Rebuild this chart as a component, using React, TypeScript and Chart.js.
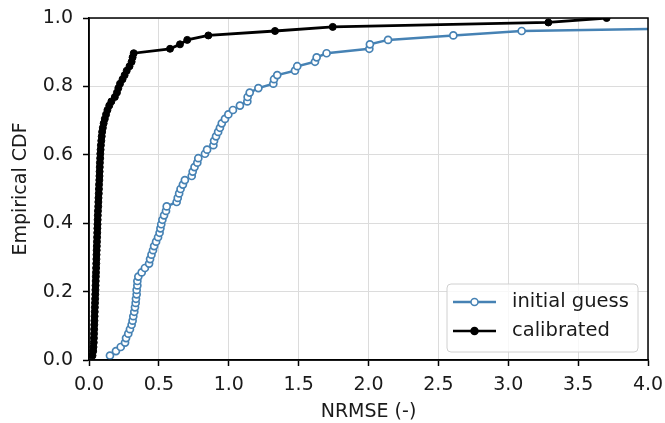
import React, { useEffect, useRef } from "react";
import { Chart, registerables } from "chart.js";

Chart.register(...registerables);

// Empirical CDF levels (i / 78)
const cdfLevels: number[] = [
  0.013, 0.026, 0.038, 0.051, 0.064, 0.077, 0.090, 0.103, 0.115, 0.128,
  0.141, 0.154, 0.167, 0.179, 0.192, 0.205, 0.218, 0.231, 0.244, 0.256,
  0.269, 0.282, 0.295, 0.308, 0.321, 0.333, 0.346, 0.359, 0.372, 0.385,
  0.397, 0.410, 0.423, 0.436, 0.449, 0.462, 0.474, 0.487, 0.500, 0.513,
  0.526, 0.538, 0.551, 0.564, 0.577, 0.590, 0.603, 0.615, 0.628, 0.641,
  0.654, 0.667, 0.679, 0.692, 0.705, 0.718, 0.731, 0.744, 0.756, 0.769,
  0.782, 0.795, 0.808, 0.821, 0.833, 0.846, 0.859, 0.872, 0.885, 0.897,
  0.910, 0.923, 0.936, 0.949, 0.962, 0.974, 0.987, 1.000,
];

// NRMSE of the initial guess (sorted)
const initialGuessNrmse: number[] = [
  0.150, 0.193, 0.227, 0.258, 0.265, 0.281, 0.293, 0.305, 0.312, 0.317,
  0.324, 0.329, 0.334, 0.336, 0.341, 0.341, 0.346, 0.346, 0.353, 0.377,
  0.400, 0.430, 0.437, 0.447, 0.458, 0.466, 0.480, 0.494, 0.505, 0.511,
  0.517, 0.525, 0.537, 0.551, 0.556, 0.627, 0.635, 0.645, 0.655, 0.672,
  0.686, 0.735, 0.742, 0.755, 0.775, 0.782, 0.830, 0.845, 0.890, 0.895,
  0.909, 0.924, 0.937, 0.950, 0.973, 0.997, 1.030, 1.080, 1.133, 1.135,
  1.150, 1.212, 1.319, 1.324, 1.347, 1.474, 1.490, 1.617, 1.629, 1.700,
  2.006, 2.010, 2.140, 2.607, 3.096, 4.900, 6.000, 8.000,
];

// NRMSE after calibration (sorted)
const calibratedNrmse: number[] = [
  0.025, 0.030, 0.032, 0.034, 0.035, 0.036, 0.037, 0.038, 0.039, 0.040,
  0.041, 0.042, 0.043, 0.044, 0.045, 0.046, 0.047, 0.048, 0.049, 0.050,
  0.051, 0.052, 0.053, 0.054, 0.055, 0.056, 0.057, 0.058, 0.059, 0.060,
  0.061, 0.062, 0.063, 0.064, 0.066, 0.067, 0.068, 0.070, 0.071, 0.072,
  0.074, 0.075, 0.076, 0.077, 0.078, 0.080, 0.081, 0.083, 0.085, 0.088,
  0.091, 0.094, 0.099, 0.105, 0.113, 0.122, 0.132, 0.145, 0.160, 0.185,
  0.200, 0.210, 0.222, 0.240, 0.255, 0.270, 0.290, 0.305, 0.312, 0.320,
  0.580, 0.651, 0.703, 0.854, 1.331, 1.744, 3.287, 3.704,
];

const seriesLabels: string[] = ["initial guess", "calibrated"];
const xTicks: number[] = [0, 0.5, 1, 1.5, 2, 2.5, 3, 3.5, 4];
const yTicks: number[] = [0, 0.2, 0.4, 0.6, 0.8, 1.0];

const BLUE = "#4682b4";
const FONT = "'DejaVu Sans', sans-serif";

const zeroPad = (s: any) => {
  s.paddingTop = 0;
  s.paddingBottom = 0;
  s.paddingLeft = 0;
  s.paddingRight = 0;
};

const frameAndLegend = {
  id: "frameAndLegend",
  afterDraw(chart: any) {
    const { ctx, chartArea } = chart;
    const { left, right, top, bottom } = chartArea;
    ctx.save();
    ctx.strokeStyle = "#000";
    ctx.lineWidth = 1.5;
    ctx.strokeRect(left, top, right - left, bottom - top);

    const bx = 447, by = 284, bw = 191, bh = 68, r = 4;
    ctx.beginPath();
    ctx.moveTo(bx + r, by);
    ctx.arcTo(bx + bw, by, bx + bw, by + bh, r);
    ctx.arcTo(bx + bw, by + bh, bx, by + bh, r);
    ctx.arcTo(bx, by + bh, bx, by, r);
    ctx.arcTo(bx, by, bx + bw, by, r);
    ctx.closePath();
    ctx.fillStyle = "rgba(255,255,255,0.8)";
    ctx.fill();
    ctx.strokeStyle = "#d0d0d0";
    ctx.lineWidth = 1;
    ctx.stroke();

    const rows = [
      { y: 302, color: BLUE, fill: "#fff" },
      { y: 331, color: "#000", fill: "#000" },
    ];
    rows.forEach((row, i) => {
      ctx.strokeStyle = row.color;
      ctx.lineWidth = 2.5;
      ctx.beginPath();
      ctx.moveTo(453, row.y);
      ctx.lineTo(496, row.y);
      ctx.stroke();
      ctx.beginPath();
      ctx.arc(474.5, row.y, 3.5, 0, Math.PI * 2);
      ctx.fillStyle = row.fill;
      ctx.fill();
      ctx.lineWidth = 1.5;
      ctx.stroke();
      ctx.fillStyle = "#1a1a1a";
      ctx.font = `19.5px ${FONT}`;
      ctx.textAlign = "left";
      ctx.textBaseline = "middle";
      ctx.fillText(seriesLabels[i], 512, row.y);
    });
    ctx.restore();
  },
};

export default function App() {
  const canvasRef = useRef<HTMLCanvasElement | null>(null);

  useEffect(() => {
    document.body.style.margin = "0";
    const canvas = canvasRef.current;
    if (!canvas) return;

    const blueData = initialGuessNrmse.map((x, i) => ({ x, y: cdfLevels[i] }));
    const blackData = calibratedNrmse.map((x, i) => ({ x, y: cdfLevels[i] }));

    const chart = new Chart(canvas, {
      type: "line",
      data: {
        datasets: [
          {
            label: seriesLabels[0],
            data: blueData,
            borderColor: BLUE,
            borderWidth: 2.5,
            pointRadius: 3.5,
            pointBorderWidth: 1.7,
            pointBackgroundColor: "#fff",
            pointBorderColor: BLUE,
            tension: 0,
            clip: 0,
            order: 1,
          },
          {
            label: seriesLabels[1],
            data: blackData,
            borderColor: "#000",
            borderWidth: 2.8,
            pointRadius: 3.5,
            pointBorderWidth: 1,
            pointBackgroundColor: "#000",
            pointBorderColor: "#000",
            tension: 0,
            clip: 0,
            order: 0,
          },
        ],
      },
      options: {
        animation: false,
        responsive: true,
        maintainAspectRatio: false,
        layout: { padding: { left: 0, top: 18, right: 17, bottom: 0 } },
        plugins: {
          legend: { display: false },
          tooltip: { enabled: false },
        },
        scales: {
          x: {
            type: "linear",
            min: 0,
            max: 4,
            afterFit: (s: any) => {
              s.height = 63;
              zeroPad(s);
            },
            afterBuildTicks: (s: any) => {
              s.ticks = xTicks.map((v) => ({ value: v }));
            },
            ticks: {
              color: "#1a1a1a",
              font: { family: FONT, size: 19 },
              padding: 8,
              maxRotation: 0,
              callback: (v: any) => Number(v).toFixed(1),
            },
            grid: {
              color: "#dcdcdc",
              lineWidth: 1,
              tickColor: "#000",
              tickLength: 6,
              tickWidth: 1.5,
            },
            border: { display: true, color: "#000", width: 1.5 },
            title: {
              display: true,
              text: "NRMSE (-)",
              color: "#1a1a1a",
              font: { family: FONT, size: 19 },
              padding: { top: 0, bottom: 0 },
            },
          },
          y: {
            type: "linear",
            min: 0,
            max: 1,
            afterFit: (s: any) => {
              s.width = 89;
              zeroPad(s);
            },
            afterBuildTicks: (s: any) => {
              s.ticks = yTicks.map((v) => ({ value: v }));
            },
            ticks: {
              color: "#1a1a1a",
              font: { family: FONT, size: 19 },
              padding: 10,
              callback: (v: any) => Number(v).toFixed(1),
            },
            grid: {
              color: "#dcdcdc",
              lineWidth: 1,
              tickColor: "#000",
              tickLength: 6,
              tickWidth: 1.5,
            },
            border: { display: true, color: "#000", width: 1.5 },
            title: {
              display: true,
              text: "Empirical CDF",
              color: "#1a1a1a",
              font: { family: FONT, size: 19 },
              padding: { top: 10, bottom: 0 },
            },
          },
        },
      },
      plugins: [frameAndLegend],
    });

    return () => chart.destroy();
  }, []);

  return (
    <div style={{ width: 665, height: 423, position: "relative", background: "#fff" }}>
      <canvas ref={canvasRef} />
    </div>
  );
}
